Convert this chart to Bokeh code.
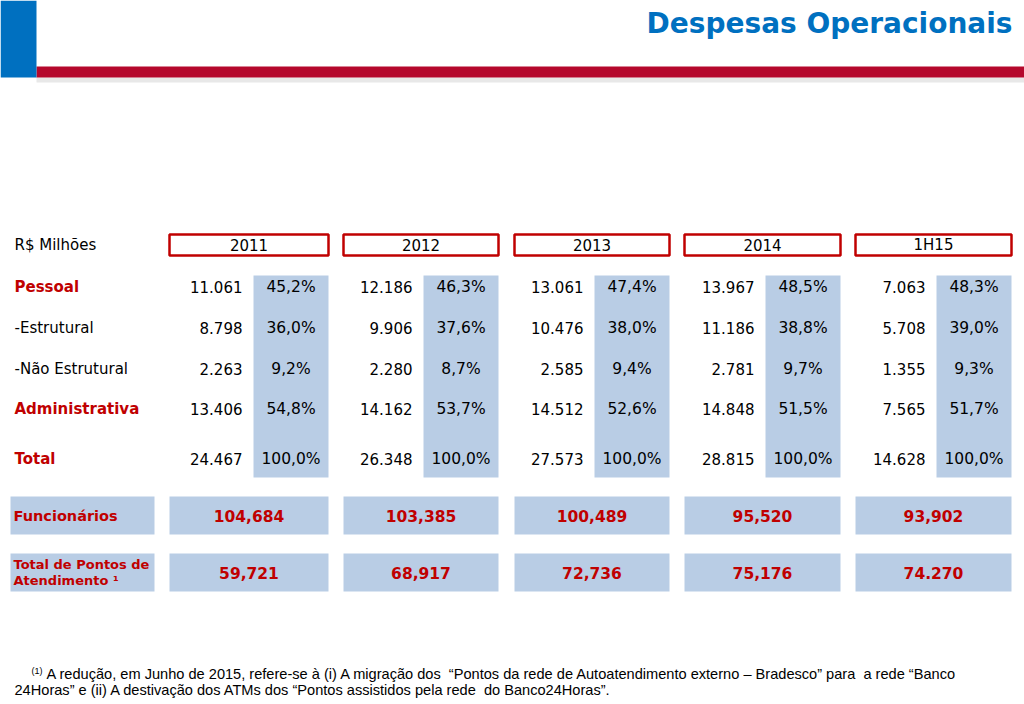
from bokeh.plotting import figure
from bokeh.models import Range1d
from bokeh.core.properties import value
from bokeh.embed import file_html
from bokeh.resources import INLINE

# ---------------- data ----------------
title = "Despesas Operacionais"
unit_label = "R$ Milhões"
periods = ["2011", "2012", "2013", "2014", "1H15"]
row_labels = ["Pessoal", "-Estrutural", "-Não Estrutural", "Administrativa", "Total"]
row_bold = [True, False, False, True, True]
pessoal = ["11.061", "12.186", "13.061", "13.967", "7.063"]
pessoal_pct = ["45,2%", "46,3%", "47,4%", "48,5%", "48,3%"]
estrutural = ["8.798", "9.906", "10.476", "11.186", "5.708"]
estrutural_pct = ["36,0%", "37,6%", "38,0%", "38,8%", "39,0%"]
nao_estrutural = ["2.263", "2.280", "2.585", "2.781", "1.355"]
nao_estrutural_pct = ["9,2%", "8,7%", "9,4%", "9,7%", "9,3%"]
administrativa = ["13.406", "14.162", "14.512", "14.848", "7.565"]
administrativa_pct = ["54,8%", "53,7%", "52,6%", "51,5%", "51,7%"]
total = ["24.467", "26.348", "27.573", "28.815", "14.628"]
total_pct = ["100,0%", "100,0%", "100,0%", "100,0%", "100,0%"]
funcionarios = ["104,684", "103,385", "100,489", "95,520", "93,902"]
pontos = ["59,721", "68,917", "72,736", "75,176", "74.270"]
footnote_1 = ("A redução, em Junho de 2015, refere-se à (i) A migração dos \u00a0“Pontos da rede de "
              "Autoatendimento externo – Bradesco” para \u00a0a rede “Banco")
footnote_2 = "24Horas” e (ii) A destivação dos ATMs dos “Pontos assistidos pela rede \u00a0do Banco24Horas”."

values = [pessoal, estrutural, nao_estrutural, administrativa, total]
pcts = [pessoal_pct, estrutural_pct, nao_estrutural_pct, administrativa_pct, total_pct]

# ---------------- layout ----------------
W, H = 1024, 704
BLUE = "#0070C0"
RED = "#C00000"
CELL = "#B9CDE5"
FONT = value("DejaVu Sans")

p = figure(width=W, height=H, x_range=Range1d(0, W), y_range=Range1d(H, 0),
           output_backend="svg", toolbar_location=None, min_border=0)
p.axis.visible = False
p.grid.visible = False
p.outline_line_color = None
p.background_fill_color = "white"
p.border_fill_color = "white"

# header decoration
p.quad(left=[36], right=[1024], top=[77], bottom=[82], fill_color="#D9D9D9", line_color=None, fill_alpha=0.6)
p.quad(left=[36], right=[1024], top=[66], bottom=[77], fill_color="#B5082C", line_color=None)
p.quad(left=[0], right=[36], top=[0], bottom=[77], fill_color=BLUE, line_color=None)
p.text(x=[1012], y=[23], text=[title], text_font=FONT, text_font_style="bold",
       text_font_size="28px", text_color=BLUE, text_align="right", text_baseline="middle")

# column geometry
box_left = [169, 343, 514, 684, 855]
box_right = [328, 498, 669, 840, 1011]
cell_w = 75
num_gap = 11

# header boxes
p.quad(left=box_left, right=box_right, top=[234] * 5, bottom=[255] * 5,
       fill_color="white", line_color=RED, line_width=2.5)
p.text(x=[(l + r) / 2 for l, r in zip(box_left, box_right)], y=[244] * 5, text=periods,
       text_font=FONT, text_font_size="15px", text_color="black",
       text_align="center", text_baseline="middle")
p.text(x=[14], y=[244], text=[unit_label], text_font=FONT, text_font_size="15px",
       text_color="black", text_align="left", text_baseline="middle")

# blue percentage columns
p.quad(left=[r - cell_w for r in box_right], right=box_right, top=[275] * 5, bottom=[477] * 5,
       fill_color=CELL, line_color=None)

row_y = [286, 327, 368, 408, 458]
for i, lab in enumerate(row_labels):
    y = row_y[i]
    p.text(x=[14], y=[y], text=[lab], text_font=FONT, text_font_size="15px",
           text_font_style="bold" if row_bold[i] else "normal",
           text_color=RED if row_bold[i] else "black", text_align="left", text_baseline="middle")
    p.text(x=[r - cell_w - num_gap for r in box_right], y=[y] * 5, text=values[i],
           text_font=FONT, text_font_size="15px", text_color="black",
           text_align="right", text_baseline="middle")
    p.text(x=[r - cell_w / 2 for r in box_right], y=[y] * 5, text=pcts[i],
           text_font=FONT, text_font_size="15.5px", text_color="black",
           text_align="center", text_baseline="middle")

# bottom blocks
for top, bot, vals in [(496, 534, funcionarios), (553, 591, pontos)]:
    p.quad(left=[10], right=[154], top=[top], bottom=[bot], fill_color=CELL, line_color=None)
    p.quad(left=box_left, right=box_right, top=[top] * 5, bottom=[bot] * 5,
           fill_color=CELL, line_color=None)
    p.text(x=[(l + r) / 2 for l, r in zip(box_left, box_right)], y=[(top + bot) / 2] * 5,
           text=vals, text_font=FONT, text_font_style="bold", text_font_size="15.5px",
           text_color=RED, text_align="center", text_baseline="middle")

p.text(x=[13], y=[515], text=["Funcionários"], text_font=FONT, text_font_style="bold",
       text_font_size="14.5px", text_color=RED, text_align="left", text_baseline="middle")
p.text(x=[13, 13], y=[564, 580], text=["Total de Pontos de", "Atendimento ¹"], text_font=FONT,
       text_font_style="bold", text_font_size="13px", text_color=RED,
       text_align="left", text_baseline="middle")

# footnote
FN = value("Liberation Sans")
p.text(x=[31], y=[670], text=["(1)"], text_font=FN, text_font_size="9px", text_color="black",
       text_align="left", text_baseline="middle")
p.text(x=[46, 14], y=[673, 689], text=[footnote_1, footnote_2], text_font=FN,
       text_font_size="14.6px", text_color="black", text_align="left", text_baseline="middle")

open("out.html", "w").write(file_html(p, INLINE))
